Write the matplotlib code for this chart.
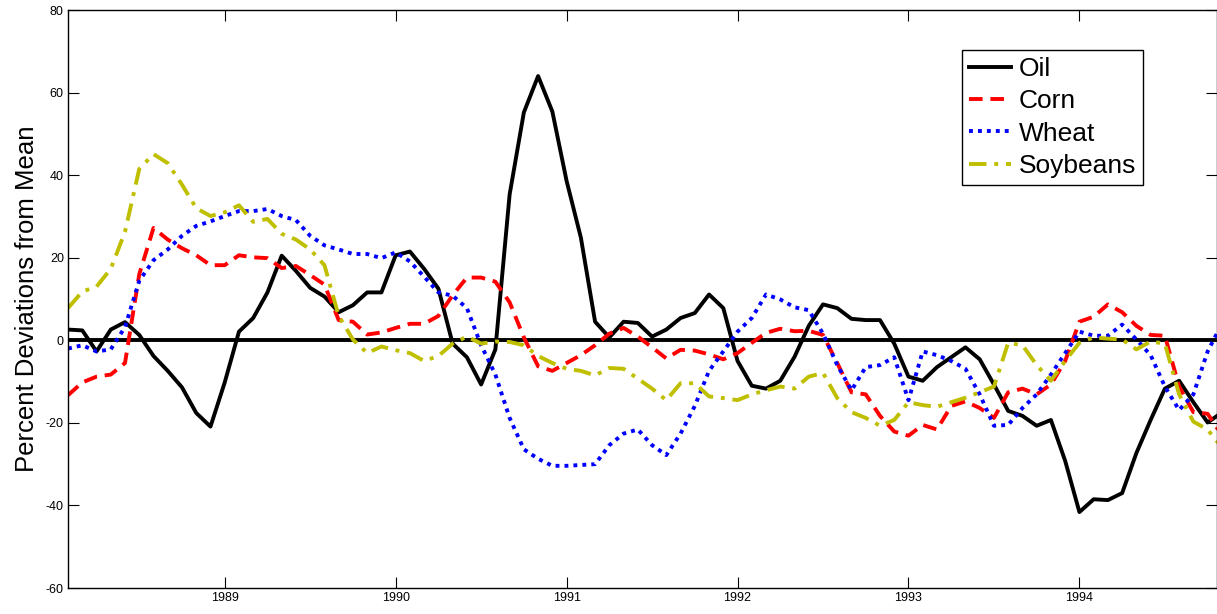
import numpy as np
import matplotlib
matplotlib.use("Agg")
import matplotlib.pyplot as plt

plt.rcParams["font.family"] = ["Liberation Sans", "DejaVu Sans"]
plt.rcParams["axes.unicode_minus"] = False

# monthly observations, Feb 1988 .. Nov 1994
start_year, start_month = 1988, 2

oil = [2.6, 2.4, -2.7, 2.6, 4.4, 1.3, -3.8, -7.4, -11.4, -17.6, -20.9,
       -10.2, 2.1, 5.4, 11.6, 20.5, 16.8, 12.7, 10.6, 6.8, 8.5, 11.6, 11.6,
       20.6, 21.5, 17.3, 12.5, -0.8, -4.1, -10.7, -2.2, 35.3, 55.2, 64.0, 55.4,
       38.6, 24.9, 4.5, 0.7, 4.5, 4.2, 0.9, 2.6, 5.4, 6.6, 11.1, 7.8,
       -5.0, -11.0, -11.7, -9.8, -4.0, 3.5, 8.7, 7.8, 5.2, 4.9, 4.9, -0.8,
       -8.8, -9.8, -6.5, -4.1, -1.7, -4.6, -10.7, -17.1, -18.3, -20.7, -19.3, -29.2,
       -41.6, -38.5, -38.7, -37.0, -27.3, -19.3, -11.7, -9.8, -15.0, -19.9, -17.5]

corn = [-13.3, -10.2, -8.8, -8.3, -5.5, 16.0, 27.2, 24.4, 22.3, 20.6, 18.2,
        18.2, 20.6, 20.1, 19.9, 17.5, 18.0, 15.8, 13.5, 4.9, 4.5, 1.4, 1.9,
        3.0, 4.0, 4.0, 5.9, 10.9, 15.2, 15.2, 14.2, 9.2, 0.7, -6.3, -7.4,
        -5.5, -3.6, -1.2, 1.6, 3.0, 0.9, -1.7, -4.4, -2.3, -2.5, -3.4, -4.6,
        -3.1, -0.6, 1.8, 2.8, 2.2, 2.3, 1.3, -5.5, -12.6, -13.1, -18.3, -22.1,
        -23.1, -20.5, -21.6, -15.9, -14.8, -16.4, -18.8, -12.6, -11.7, -13.1, -10.7, -5.0,
        4.5, 5.7, 8.7, 6.8, 3.5, 1.3, 1.1, -11.2, -17.4, -17.8, -23.0]

wheat = [-2.0, -1.2, -2.7, -2.2, 3.2, 14.4, 19.4, 22.0, 25.3, 27.7, 28.8,
         30.1, 31.3, 31.3, 31.8, 30.1, 29.1, 25.3, 23.0, 22.0, 20.9, 20.9, 19.9,
         21.3, 19.1, 15.4, 11.6, 10.8, 7.8, -1.2, -8.3, -18.8, -26.4, -28.7, -30.4,
         -30.4, -30.2, -30.0, -25.4, -22.6, -21.6, -25.4, -27.8, -22.6, -15.9, -7.4, -2.7,
         2.1, 5.4, 11.1, 9.9, 8.0, 7.3, 1.6, -6.0, -12.1, -6.5, -6.0, -4.1,
         -14.5, -2.7, -3.6, -5.0, -6.9, -13.1, -20.7, -20.5, -16.4, -13.1, -8.3, -3.1,
         2.1, 1.1, 1.1, 3.8, 0.2, -3.6, -11.2, -16.9, -13.1, -2.7, 4.0]

soybeans = [7.8, 11.8, 13.0, 17.3, 26.3, 41.5, 45.1, 42.9, 37.7, 32.0, 30.1,
            31.0, 32.7, 28.7, 29.4, 25.8, 24.4, 22.0, 18.2, 5.9, 0.2, -3.1, -1.5,
            -2.4, -3.1, -5.0, -3.8, -0.8, 0.9, -0.8, -0.3, -0.4, -1.2, -3.8, -5.5,
            -6.9, -7.4, -8.5, -6.7, -6.9, -9.3, -11.7, -14.5, -10.4, -10.4, -13.6, -14.0,
            -14.5, -13.1, -12.1, -11.2, -11.7, -8.8, -7.9, -14.0, -17.4, -18.8, -20.7, -19.3,
            -15.0, -15.7, -16.1, -15.0, -13.9, -12.6, -11.2, -0.6, -1.2, -6.0, -9.8, -5.0,
            -0.6, 0.7, 0.4, 0.2, -2.2, -0.3, -0.8, -13.1, -19.7, -21.6, -26.0]

t = start_year + (start_month - 1 + np.arange(len(oil))) / 12.0

fig = plt.figure(figsize=(12.17, 6.14), dpi=100)
ax = fig.add_axes([0.0559, 0.0423, 0.944, 0.9414])

ax.axhline(0, color="k", lw=2.8, zorder=1)
ax.plot(t, oil, color="k", lw=2.8, ls="-", label="Oil")
ax.plot(t, corn, color="#ff0000", lw=2.8, ls=(0, (3.5, 2)), label="Corn")
ax.plot(t, wheat, color="#0000ff", lw=2.8, ls=(0, (1, 1.3)), label="Wheat")
ax.plot(t, soybeans, color="#bfbf00", lw=2.8, ls=(0, (4.5, 2, 1, 2)), label="Soybeans")

ax.set_xlim(1988 + 1 / 12, 1994 + 9.65 / 12)
ax.set_ylim(-60, 80)
ax.set_xticks(range(1989, 1995))
ax.set_yticks(range(-60, 81, 20))
ax.tick_params(direction="in", length=8, width=0.8, labelsize=9, pad=3,
               top=True, right=True)
for s in ax.spines.values():
    s.set_linewidth(1.0)
ax.set_ylabel("Percent Deviations from Mean", fontsize=18.5, labelpad=5)

ax.legend(loc="upper left", bbox_to_anchor=(0.778, 0.931), fontsize=19,
          frameon=True, fancybox=False, edgecolor="k", framealpha=1,
          handlelength=1.6, handletextpad=0.27, borderpad=0.28, labelspacing=0.31,
          borderaxespad=0)

fig.savefig("out.png", dpi=100)
